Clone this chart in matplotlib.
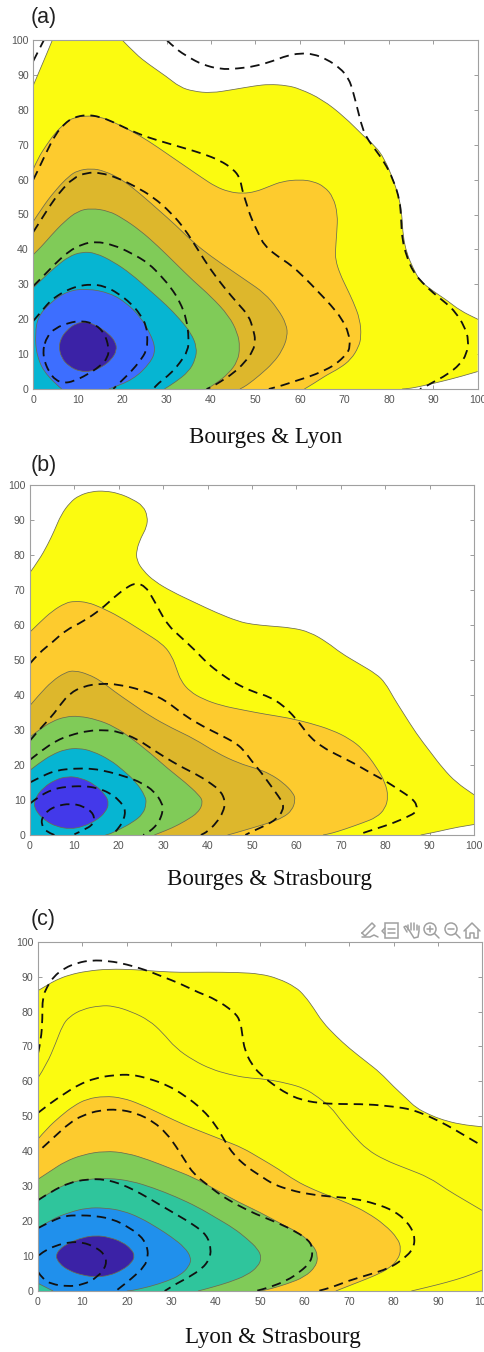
import matplotlib
matplotlib.use("Agg")
import matplotlib.pyplot as plt
from matplotlib.path import Path
from matplotlib.patches import PathPatch, Circle, Rectangle

# colours of the filled levels
YELLOW = '#FBFB10'
ORANGE = '#FDCB2E'
GOLD = '#DDB72C'
GREEN = '#80CB58'
CYAN = '#06B5D2'
BLUE = '#3D6EFF'
VIOLET = '#4339EA'
PURPLE = '#3B22A6'
SEA = '#2FC59C'
SKY = '#2090EC'

# panel (a) filled levels
a_yellow_left = [(0,87),(2,93),(3,96),(4.3,100)]
a_yellow_top = [(20,100),(23,96),(26,93),(30,89.5),(33,86.5),(36,85.3),(40,84.8),(45,85.8),(50,86.9),(53,87.3),(57,87),(60,86),(65,83),(70,78),(74.3,72.5),(77,69.5),(79,66),(81,60),(82.5,54),(83,49),(83.2,44),(84,39),(85.5,34.5),(87,31),(90,28),(93,25.5),(96,22.5),(100,20)]
a_yellow_low = [(100,5),(96,3.5),(92,2.2),(88,1),(85,0.2),(83,0)]
a_orange = [(0,63),(1,66),(3,70),(5,73.5),(7,76),(9,77.8),(12,78.3),(15,78),(18,76.5),(22,74),(26,71),(30,67.5),(34,64),(38,60.5),(41,58),(44,56.5),(47,56),(50,56.5),(53,58),(56,59.5),(60,60),(63,59.5),(65.5,58),(67.5,55),(68.5,50),(68.3,45),(68,40),(68,37),(69,33),(70.5,29),(72,25),(73.5,20),(73.8,15),(73.2,12),(71.5,8.5),(69,6),(66,4),(63,1.5),(61,0)]
a_gold = [(0,48),(2,52),(5,57),(8,61),(10,62.6),(13,63.2),(16,62.5),(20,60),(24,56),(28,51.5),(32,47),(36,42),(40,38),(44,34.5),(48,31),(52,27.5),(55,23),(57,18.5),(57.2,15),(56,11),(54,7.5),(51,4),(48,1),(46.5,0)]
a_green = [(0,38.5),(2,41),(4,44),(7,48),(10,51),(13,51.8),(17,51),(20,49),(24,45.5),(28,41),(32,36),(36,31),(40,26.5),(44,21),(46,16),(46.5,12),(46,8),(44,4.5),(41,1.5),(39,0)]
a_cyan = [(0,29),(2,31.5),(5,35),(8,38),(11,39.3),(14,39),(18,36.5),(22,33),(26,28.5),(30,24),(33,20),(35.5,16),(36.8,12),(36.5,8.5),(35,5),(32,2),(29.5,0)]
a_blue = [(6.4,0),(3,3.6),(0.75,9.4),(0.4,16),(1.1,20.8),(3.7,24.6),(7.5,28),(12,28.8),(17.3,27.5),(21,24.6),(24,20.8),(26.3,16),(27.6,11.3),(26.3,7.4),(22.5,2.7),(17,0)]
a_purple = [(5.8,12),(6.3,9),(8,6.5),(10.5,5),(13,5),(15.5,6.3),(17.5,8.3),(18.8,11),(18.5,13.5),(17,15.8),(14.5,18),(12,19.3),(9.5,18.8),(7.5,16.8),(6.2,14.5),(5.8,12)]

# panel (a) dashed lines
a_dash1 = [(0,94),(1,96.5),(2.4,100)]
a_dash2 = [(30,100),(32,97.5),(35,95),(38,93),(42,91.6),(46,91.8),(50,92.5),(54,94),(57,95.5),(60,96.2),(63,96),(66,94.5),(69,92),(71,89),(72,85),(73,80),(74,75),(75,72),(77,68.5),(79,65),(81,60),(82.5,54),(82.8,48),(83,43),(84,38),(85.5,33.5),(87.5,30.5),(90,27.5),(93,24.5),(95,22),(97,18),(98,14),(97.5,10),(96,7),(93,4),(90,2),(88,0.5),(87,0)]
a_dash3 = [(0,60),(1,62.5),(3,68),(5,73),(7,76),(9,77.8),(12,78.6),(15,78),(18,76.5),(22,74),(26,72),(30,70.5),(34,69),(38,67.5),(42,65.5),(45,63),(46.5,60.5),(47,57),(48,53),(49,49),(50.5,45),(52,41),(55,38),(58,35.5),(61,32),(64,28),(67,24),(69.5,20),(71,16),(71.3,12),(70.5,10),(68,7),(65,5),(62,3.5),(59,2.3),(56,1),(53,0)]
a_dash4 = [(0,45),(2,49),(4,53),(6,56.5),(9,60.5),(12,62),(15,62),(19,60.5),(23,58),(27,55),(31,50.5),(34,46),(37,40),(40,34),(43,29),(46,24.5),(48.5,21),(49.5,17),(50,14),(49.5,11),(47.5,7.5),(45,4.5),(42,2),(40,0.5),(39,0)]
a_dash5 = [(0,29.5),(2,32),(5,36),(8,39.5),(11,41.5),(14,42.3),(18,41.3),(22,39),(26,36),(29,32),(31,29),(33,25),(34.5,20),(35,14.5),(34.8,11),(33,7.5),(31,4.5),(28,1.5),(27,0)]
a_dash6 = [(0,19.5),(2,22.5),(4,25.5),(7,28),(10,29.5),(13,30),(16,29.5),(19,27.5),(22,24.5),(24,21.5),(25.5,18),(25.7,14),(25.5,11),(24,8),(22,5),(20,2.5),(18,0)]
a_dash7 = [(2.2,11),(3,15),(5,17.5),(8,19),(11,19.6),(14,18.5),(16,16),(17,12),(16.8,9),(15,6.5),(12,4),(9,2.2),(7,1.7),(5,2.5),(3.5,5),(2.5,8),(2.2,11)]

# panel (b) filled levels
b_yellow_top = [(0,75),(2,78.5),(4,83),(5.5,87),(7,91.5),(9,95),(11,97),(14,98.2),(17,98.3),(20,97.6),(23,96),(25.5,94),(26.5,91),(26.3,88),(25,85),(24,81.5),(24,78.5),(25.5,75.5),(28,72.5),(32,69.5),(37,66.5),(42,63.5),(47,61),(50,60.2),(54,59.7),(59,59.2),(63,58),(67,55),(70,52),(74,49),(78,46),(80,43.5),(82,39),(84,35),(87,29),(90,24),(93,19),(96,15),(100,11.5)]
b_yellow_low = [(100,3),(96,2.2),(92,1),(88,0)]
b_orange = [(0,58),(2,60.5),(5,64),(8,66.3),(10,66.8),(13,66.5),(16,65),(20,62.5),(25,58.5),(30,54.5),(32,51),(33,47.5),(34,44),(36,41),(39,38.8),(43,37),(48,35.7),(53,34.5),(58,33.5),(63,32),(68,30),(72,27.5),(75,24.5),(78,19.5),(80,15),(80.7,11),(80,7.5),(78,5),(75,3.5),(71,1.7),(68,0.5),(66,0)]
b_gold = [(0,37),(2,40),(5,44),(8,46.5),(10,47),(13,46),(16,44),(19,41),(23,37.5),(27,34),(32,30.5),(37,27.5),(42,23.5),(47,20.5),(51,19),(54,17.5),(57,15),(59.3,12),(59.8,10),(59,7),(57,5),(54,3.5),(50,2),(46,0.5),(44.5,0)]
b_green = [(0,28),(2,30),(5,32.5),(8,33.8),(11,34),(15,33),(19,31),(23,27.5),(27,23.5),(31,19),(35,15),(38,11.5),(39,9.5),(38,6.5),(35,4),(32,2),(29,0.5),(28,0)]
b_cyan = [(0,18.5),(2,20.5),(5,23),(8,24.5),(11,24.8),(14,24),(18,21.5),(21,18.5),(24,15),(26,11),(26.2,9),(25.5,6),(23,3.5),(20,1.5),(18,0.3),(17,0)]
b_violet = [(0.9,8.8),(1.5,6.5),(3.5,4),(6,2.4),(9,1.7),(12,2.4),(15,4.2),(17,6.5),(17.8,9),(17,11.5),(14.5,14.5),(11.5,16.3),(8.5,16.8),(5.5,15.7),(3,13.5),(1.4,11),(0.9,8.8)]

# panel (b) dashed lines
b_dash1 = [(0,49),(2,52),(5,55),(8,58.5),(12,61),(16,64.5),(19,68),(22,71),(24,72),(26,71),(27.5,68),(29,64.5),(31,60),(34,56.5),(37,53),(40,49),(43,46),(46,43.5),(50,41),(54,39.5),(57,37),(59,34.5),(61,31.5),(63,28),(66,25),(69,23),(73,20.5),(77,17.5),(80,15.5),(83,13),(86,10.5),(87.2,8.5),(87,6.5),(85,5.2),(82,3.5),(78,1.8),(75,0.6),(74,0)]
b_dash2 = [(0,27),(2,30),(5,34),(7,37.5),(9,40.5),(12,42.5),(16,43.3),(20,43),(25,41.5),(29,39.5),(32,37),(35,34),(39,31),(43,28.5),(46,26.5),(48,24.5),(50,21),(52,18),(54,14.5),(56,11),(57,9),(57,7),(55.5,4.5),(53,2.7),(50,1),(48.5,0)]
b_dash3 = [(0,21.5),(3,24.5),(6,27),(9,28.5),(13,29.8),(17,30),(20,29.5),(24,27.5),(27,25),(30,22.5),(34,19.5),(38,17),(41,14.5),(43,12.5),(44,9.5),(43.5,6.5),(42,3.5),(40,1),(38.5,0)]
b_dash4 = [(0,15),(3,17),(6,18.5),(10,19),(14,19),(18,18),(22,16.5),(25,15),(28,12.5),(29.8,9),(30,7),(29,3.5),(27,1),(25.5,0)]
b_dash5 = [(0,9),(2,11),(5,13),(8,13.8),(12,14),(15,13.5),(18,12),(20,10),(21.5,7.5),(21.2,4.5),(20,2),(18.5,0)]
b_dash6 = [(5.5,0),(3.5,1),(2.6,3),(2.7,5),(4,7),(6,8.3),(9,9),(12,8.3),(14.5,6),(14.3,3),(12,1.4),(10,0.2)]

# panel (c) filled levels
c_yellow = [(0,86),(2,87.5),(4,89),(7,90.5),(11,91.6),(16,92.2),(22,92),(27,91.5),(32,91.2),(38,91.3),(45,91.2),(50,90.8),(54,89.5),(58,87),(60,84.5),(62,81),(64,77),(67,73),(70,69.5),(74,65.5),(77,62.5),(80,58.5),(83,55),(85,52.5),(88,50.5),(91,49),(95,47.7),(100,47)]
c_thin1 = [(0,61),(2,65),(4,71),(5.5,76),(7,78.5),(10,80.7),(14,81.7),(17,81.6),(21,80),(25,77.5),(28,74),(31,69.5),(35,66),(39,63.5),(43,62),(47,61),(51,60.7),(56,59.5),(60,58),(63,55.5),(66,52.5),(68,49),(71,44.5),(74,40.5),(78,37.5),(83,35),(88,32.5),(92,29),(96,26),(100,23)]
c_thin2 = [(84,0),(88,1.2),(92,2.5),(96,4),(100,6)]
c_orange = [(0,43.5),(2,46.5),(5,50),(8,53),(11,55),(15,55.8),(19,55.3),(23,53.5),(28,50.5),(33,47.5),(38,45),(42,43),(46,41),(50,38),(54,35),(58,31.5),(62,29),(66,27),(70,25),(74,22.5),(78,19),(81,15),(81.7,12),(81,9),(79,6.5),(76,4.5),(72,2.5),(69,1),(67,0)]
c_green = [(0,32),(3,34.5),(6,37),(10,39),(15,40.1),(20,39.5),(25,37.5),(30,35),(35,32.5),(40,29),(45,25.5),(50,22.5),(55,19),(59,16.5),(62,13),(63,10),(62.5,7),(60,4),(56,2),(52,0.5),(50,0)]
c_sea = [(0,26),(3,28.5),(7,31),(11,32),(16,32.3),(21,31.5),(26,29.5),(31,27),(36,24),(40,21),(44,18),(47,15),(49.5,12),(50.3,9.5),(49.5,7),(47,4.5),(43,2.5),(39,1),(36,0)]
c_sky_top = [(0,18),(3,20.5),(7,22.5),(11,23.8),(15,23.8),(19,23),(23,21),(27,18),(30,15.5),(33,12.5),(34.5,9.5),(34,7),(32,4.5),(29,2.8),(25,1.2),(21,0.1),(20,0)]
c_sky_low = [(3.4,0),(0,2.2)]
c_purple = [(4,10),(4.8,7.8),(7,5.8),(10,4.5),(13,4),(16,4.4),(19,6),(21,8),(21.8,10),(21,12),(19,14),(16,15.4),(13,15.9),(10,15.3),(7,13.8),(4.8,12),(4,10)]

# panel (c) dashed lines
c_dash1 = [(0,68),(0.7,72),(1,78),(1,84),(2,87),(3.5,90),(6,92.5),(9,94),(12,94.7),(16,94.5),(20,93.5),(24,92),(28,90),(32,88),(36,85.5),(40,83.5),(44,80),(45.5,77.5),(46,73),(46.5,69),(48,65),(50,62),(53,59),(56,56.5),(59,54.8),(63,53.8),(68,53.5),(74,53.5),(80,52.8),(84,52),(88,50),(92,47.5),(96,44.5),(100,41.5)]
c_dash2 = [(0,51),(3,54),(6,56.5),(9,59),(13,61),(17,61.8),(21,62),(25,60.8),(29,59),(33,56),(37,52),(40,47.5),(42,43),(44,39),(47,35.5),(50,33),(53,30.5),(57,28.8),(61,27.7),(66,27),(71,26.5),(76,25),(80,23),(83,20),(84.8,16),(84.5,12),(82,9),(79,6.5),(74,4.5),(70,3),(66,1),(63,0)]
c_dash3 = [(1,41),(4,44.5),(7,48),(10,50.3),(14,51.8),(18,52),(22,51),(26,48.5),(29,45),(31,41.5),(33,37.5),(35,33.5),(38,30.5),(41,27.5),(45,24.5),(49,22),(54,19.5),(58,17),(61,14.5),(61.8,12),(61.5,8.5),(59,5.5),(56,3),(52,1),(49,0)]
c_dash4 = [(0,26),(3,28.5),(7,31),(11,32),(15,32),(19,30.5),(23,28),(27,25),(31,22),(35,19),(38,16),(39,12),(38.5,9),(37,6.5),(34,4),(31,2),(28.5,0)]
c_dash5 = [(0,18),(3,20),(6,21.5),(9,21.7),(13,21.5),(17,20.5),(20,18.5),(23,16),(24.5,13),(24.8,10),(24,7),(21,3.5),(18,0.5),(17.5,0)]
c_dash6 = [(0,5.5),(1,3.5),(3,2),(6.5,1.3),(10,1.7),(13.5,4),(15.5,7.5),(15,10.5),(13,12.5),(10,14),(7,14),(4,13),(1.5,11.5),(0,10)]

tick_values = [0, 10, 20, 30, 40, 50, 60, 70, 80, 90, 100]
panel_names = ['(a)', '(b)', '(c)']
captions = ['Bourges & Lyon', 'Bourges & Strasbourg', 'Lyon & Strasbourg']

W, H = 485, 1352


def midpoint(p, q):
    return ((p[0] + q[0]) / 2, (p[1] + q[1]) / 2)


def smooth_path(points):
    # quadratic pieces through the midpoints, so the read points don't show as corners
    if points[0] == points[-1]:
        m = midpoint(points[0], points[1])
        points = [m] + points[1:-1] + [points[0], m]
    verts = [points[0]]
    codes = [Path.MOVETO]
    for i in range(1, len(points) - 1):
        verts += [points[i], midpoint(points[i], points[i+1])]
        codes += [Path.CURVE3, Path.CURVE3]
    verts.append(points[-1])
    codes.append(Path.LINETO)
    return verts, codes


def fill_level(ax, color, *segments):
    verts, codes = [], []
    for seg in segments:
        v, c = smooth_path(seg) if len(seg) > 1 else (seg, [Path.LINETO])
        if verts:
            c = [Path.LINETO] + c[1:]
        verts += v
        codes += c
    verts.append(verts[0])
    codes.append(Path.CLOSEPOLY)
    ax.add_patch(PathPatch(Path(verts, codes), facecolor=color, edgecolor='none', zorder=2))
    for seg in segments:
        if len(seg) > 1:
            thin_line(ax, seg)


def thin_line(ax, seg):
    v, c = smooth_path(seg)
    ax.add_patch(PathPatch(Path(v, c), facecolor='none', edgecolor='#6b6b50', lw=0.55, zorder=3))


def dashed(ax, seg):
    v, c = smooth_path(seg)
    ax.add_patch(PathPatch(Path(v, c), facecolor='none', edgecolor='#111111', lw=1.3,
                           linestyle=(0, (5.2, 3.3)), zorder=5))


def make_axes(fig, left, top, right, bottom):
    ax = fig.add_axes([left / W, 1 - bottom / H, (right - left) / W, (bottom - top) / H])
    ax.set_xlim(0, 100)
    ax.set_ylim(0, 100)
    ax.set_xticks(tick_values)
    ax.set_yticks(tick_values)
    ax.tick_params(direction='in', length=3, width=0.6, color='#8c8c8c', labelcolor='#555555',
                   labelsize=7.6, top=True, right=True)
    ax.tick_params(axis='x', pad=4.5)
    ax.tick_params(axis='y', pad=3.3)
    for spine in ax.spines.values():
        spine.set_color('#a0a0a0')
        spine.set_linewidth(0.8)
        spine.set_zorder(6)
    for lab in ax.get_xticklabels():
        lab.set_clip_on(False)
    return ax


plt.rcParams['font.family'] = ['Liberation Sans', 'DejaVu Sans']
fig = plt.figure(figsize=(W / 100, H / 100), dpi=100, facecolor='white')

origin = [(0, 0)]
ax_a = make_axes(fig, 33.3, 40, 477.7, 389)
fill_level(ax_a, YELLOW, a_yellow_left, a_yellow_top, a_yellow_low, origin)
fill_level(ax_a, ORANGE, a_orange, origin)
fill_level(ax_a, GOLD, a_gold, origin)
fill_level(ax_a, GREEN, a_green, origin)
fill_level(ax_a, CYAN, a_cyan, origin)
fill_level(ax_a, BLUE, a_blue)
fill_level(ax_a, PURPLE, a_purple)
for seg in [a_dash1, a_dash2, a_dash3, a_dash4, a_dash5, a_dash6, a_dash7]:
    dashed(ax_a, seg)

ax_b = make_axes(fig, 30, 485, 474, 835)
fill_level(ax_b, YELLOW, b_yellow_top, b_yellow_low, origin)
fill_level(ax_b, ORANGE, b_orange, origin)
fill_level(ax_b, GOLD, b_gold, origin)
fill_level(ax_b, GREEN, b_green, origin)
fill_level(ax_b, CYAN, b_cyan, origin)
fill_level(ax_b, VIOLET, b_violet)
for seg in [b_dash1, b_dash2, b_dash3, b_dash4, b_dash5, b_dash6]:
    dashed(ax_b, seg)

ax_c = make_axes(fig, 38, 941.7, 482.5, 1291)
fill_level(ax_c, YELLOW, c_yellow, [(100, 0)], origin)
thin_line(ax_c, c_thin1)
thin_line(ax_c, c_thin2)
fill_level(ax_c, ORANGE, c_orange, origin)
fill_level(ax_c, GREEN, c_green, origin)
fill_level(ax_c, SEA, c_sea, origin)
fill_level(ax_c, SKY, c_sky_top, c_sky_low)
fill_level(ax_c, PURPLE, c_purple)
for seg in [c_dash1, c_dash2, c_dash3, c_dash4, c_dash5, c_dash6]:
    dashed(ax_c, seg)

# page level texts and the toolbar, in image pixels
page = fig.add_axes([0, 0, 1, 1], facecolor='none')
page.set_xlim(0, W)
page.set_ylim(H, 0)
page.axis('off')

for name, y in zip(panel_names, [18, 466, 920]):
    page.text(31, y, name, fontsize=15.5, color='#222222', ha='left', va='center')
for cap, x, y in zip(captions, [266, 270, 273], [437, 880, 1338]):
    page.text(x, y, cap, fontsize=16.6, family='Liberation Serif', color='#111111', ha='center', va='center')

icon = dict(color='#a0a0a0', lw=1.1, solid_capstyle='round')
# pencil
page.plot([362, 372, 375, 365, 362], [933, 923, 926, 936, 933], **icon)
page.plot([362, 370, 374, 378], [937, 937, 935, 937], **icon)
# data tips box
page.add_patch(Rectangle((385, 923), 13, 15, fill=False, edgecolor='#a0a0a0', lw=1.1))
page.plot([388, 395], [929, 929], **icon)
page.plot([388, 395], [933, 933], **icon)
page.plot([385, 382, 385], [928, 931, 934], **icon)
# hand
page.plot([407, 404, 406, 409, 414, 418, 419, 419], [932, 927, 926, 930, 938, 937, 931, 926], **icon)
for x0, y1 in zip([408, 411, 414, 417], [925, 923, 923, 925]):
    page.plot([x0, x0], [930, y1], **icon)
# zoom in and zoom out
for cx in [430, 451]:
    page.add_patch(Circle((cx, 929), 6, fill=False, edgecolor='#a0a0a0', lw=1.1))
    page.plot([cx + 4.5, cx + 9], [933.5, 938], **icon)
    page.plot([cx - 3, cx + 3], [929, 929], **icon)
page.plot([430, 430], [926, 932], **icon)
# home
page.plot([464, 472, 480], [931, 923, 931], **icon)
page.plot([466, 466, 470, 470, 474, 474, 478, 478], [930, 938, 938, 933, 933, 938, 938, 930], **icon)

fig.savefig('out.png', dpi=100)
